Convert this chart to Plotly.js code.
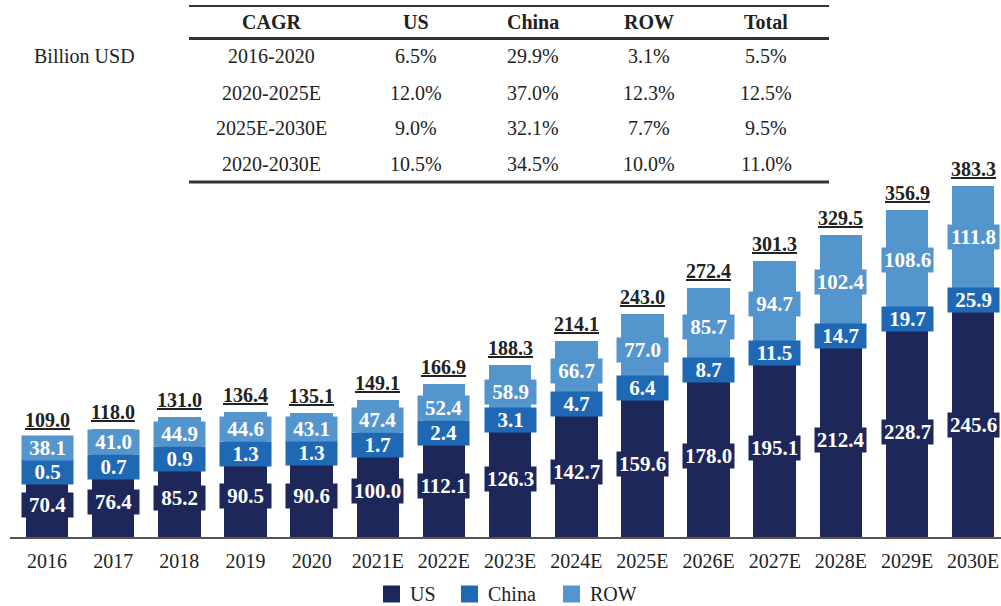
<!DOCTYPE html>
<html>
<head>
<meta charset="utf-8">
<script src="https://cdn.plot.ly/plotly-3.0.1.min.js"></script>
<style>html,body{margin:0;padding:0;background:#fff;}#chart{width:1001px;height:606px;}</style>
</head>
<body>
<div id="chart"></div>
<script>
// ---- data ----
const years = ['2016','2017','2018','2019','2020','2021E','2022E','2023E','2024E','2025E','2026E','2027E','2028E','2029E','2030E'];
const us    = [70.4,76.4,85.2,90.5,90.6,100.0,112.1,126.3,142.7,159.6,178.0,195.1,212.4,228.7,245.6];
const china = [0.5,0.7,0.9,1.3,1.3,1.7,2.4,3.1,4.7,6.4,8.7,11.5,14.7,19.7,25.9];
const row   = [38.1,41.0,44.9,44.6,43.1,47.4,52.4,58.9,66.7,77.0,85.7,94.7,102.4,108.6,111.8];
const totals = [109.0,118.0,131.0,136.4,135.1,149.1,166.9,188.3,214.1,243.0,272.4,301.3,329.5,356.9,383.3];

const tableHeader = ['CAGR','US','China','ROW','Total'];
const cagrPeriods = ['2016-2020','2020-2025E','2025E-2030E','2020-2030E'];
const cagrUS      = ['6.5%','12.0%','9.0%','10.5%'];
const cagrChina   = ['29.9%','37.0%','32.1%','34.5%'];
const cagrROW     = ['3.1%','12.3%','7.7%','10.0%'];
const cagrTotal   = ['5.5%','12.5%','9.5%','11.0%'];

const seriesNames = ['US','China','ROW'];
const colors = {US:'#1d2759', China:'#1f69b4', ROW:'#5595ce'};

// ---- geometry helpers (pixel -> paper) ----
const W = 1001, H = 606;
const mL = 10, mR = 0, mT = 0, mB = 69;
const pw = W - mL - mR, ph = H - mT - mB;
const yMax = 586.4;
const px2paperX = p => (p - mL) / pw;
const px2paperY = p => (H - mB - p) / ph;
const unitsPerPx = yMax / ph;

const FONT = 'Liberation Serif, Times New Roman, serif';

const traces = [
  {name:'US', x:years, y:us, type:'bar', marker:{color:colors.US}, hoverinfo:'skip', showlegend:false},
  {name:'China', x:years, y:china, type:'bar', marker:{color:colors.China}, hoverinfo:'skip', showlegend:false},
  {name:'ROW', x:years, y:row, type:'bar', marker:{color:colors.ROW}, hoverinfo:'skip', showlegend:false}
];

const annotations = [];
const boxH = 24, boxW = 51;
const minGap = boxH * unitsPerPx + 0.5;
years.forEach((yr, i) => {
  const usC = us[i] / 2;
  let chC = us[i] + china[i] / 2;
  if (chC - usC < minGap) chC = usC + minGap;
  let rwC = us[i] + china[i] + row[i] / 2;
  if (rwC - chC < minGap) rwC = chC + minGap;
  const items = [[usC, us[i], colors.US], [chC, china[i], colors.China], [rwC, row[i], colors.ROW]];
  items.forEach(([yc, v, c]) => {
    annotations.push({
      x: i, y: yc, xref:'x', yref:'y', showarrow:false,
      text: '<b>' + v.toFixed(1) + '</b>',
      font:{family:FONT, size:21, color:'#ffffff'},
      bgcolor:c, width:boxW, height:boxH, borderpad:0,
      xanchor:'center', yanchor:'middle', valign:'middle', align:'center'
    });
  });
  annotations.push({
    x: i, y: totals[i], xref:'x', yref:'y', showarrow:false,
    text: '<b><span style="text-decoration:underline">' + totals[i].toFixed(1) + '</span></b>',
    font:{family:FONT, size:20, color:'#222222'},
    xanchor:'center', yanchor:'bottom', yshift:4
  });
});

// ---- table ----
const colX = [271, 416, 533, 649, 766];
const rowY = [56, 93, 128, 164];
tableHeader.forEach((h, j) => {
  annotations.push({x:px2paperX(colX[j]), y:px2paperY(22), xref:'paper', yref:'paper', showarrow:false,
    text:'<b>'+h+'</b>', font:{family:FONT, size:20, color:'#222'}, xanchor:'center', yanchor:'middle'});
});
const tableCols = [cagrPeriods, cagrUS, cagrChina, cagrROW, cagrTotal];
tableCols.forEach((col, j) => {
  col.forEach((t, r) => {
    annotations.push({x:px2paperX(colX[j]), y:px2paperY(rowY[r]), xref:'paper', yref:'paper', showarrow:false,
      text:t, font:{family:FONT, size:20, color:'#222'}, xanchor:'center', yanchor:'middle'});
  });
});
annotations.push({x:px2paperX(84), y:px2paperY(56), xref:'paper', yref:'paper', showarrow:false,
  text:'Billion USD', font:{family:FONT, size:20, color:'#222'}, xanchor:'center', yanchor:'middle'});

const shapes = [];
[[6,2],[38.5,3],[182,3]].forEach(([py, w]) => {
  shapes.push({type:'line', xref:'paper', yref:'paper', x0:px2paperX(189), x1:px2paperX(829),
    y0:px2paperY(py), y1:px2paperY(py), line:{color:'#333', width:w}});
});

// ---- custom legend ----
const legSq = [383, 461, 563];
const legTx = [408, 486, 588];
const legY = 594;
seriesNames.forEach((n, k) => {
  shapes.push({type:'rect', xref:'paper', yref:'paper', x0:px2paperX(legSq[k]), x1:px2paperX(legSq[k]+17),
    y0:px2paperY(legY+8.5), y1:px2paperY(legY-8.5), fillcolor:colors[n], line:{width:0}});
  annotations.push({x:px2paperX(legTx[k]), y:px2paperY(legY), xref:'paper', yref:'paper', showarrow:false,
    text:n, font:{family:FONT, size:20, color:'#222'}, xanchor:'left', yanchor:'middle'});
});

const layout = {
  width: W, height: H,
  margin:{l:mL, r:mR, t:mT, b:mB},
  barmode:'stack', bargap:0.357,
  paper_bgcolor:'#fff', plot_bgcolor:'#fff',
  showlegend:false,
  xaxis:{type:'category', range:[-0.56, 14.42], showline:true, linecolor:'#555', linewidth:2,
    ticks:'', showgrid:false, zeroline:false, fixedrange:true, ticklabelstandoff:5,
    tickfont:{family:FONT, size:20, color:'#222'}},
  yaxis:{range:[0, yMax], visible:false, showgrid:false, zeroline:false, fixedrange:true},
  annotations, shapes
};

Plotly.newPlot('chart', traces, layout, {displayModeBar:false, staticPlot:true});
</script>
</body>
</html>
